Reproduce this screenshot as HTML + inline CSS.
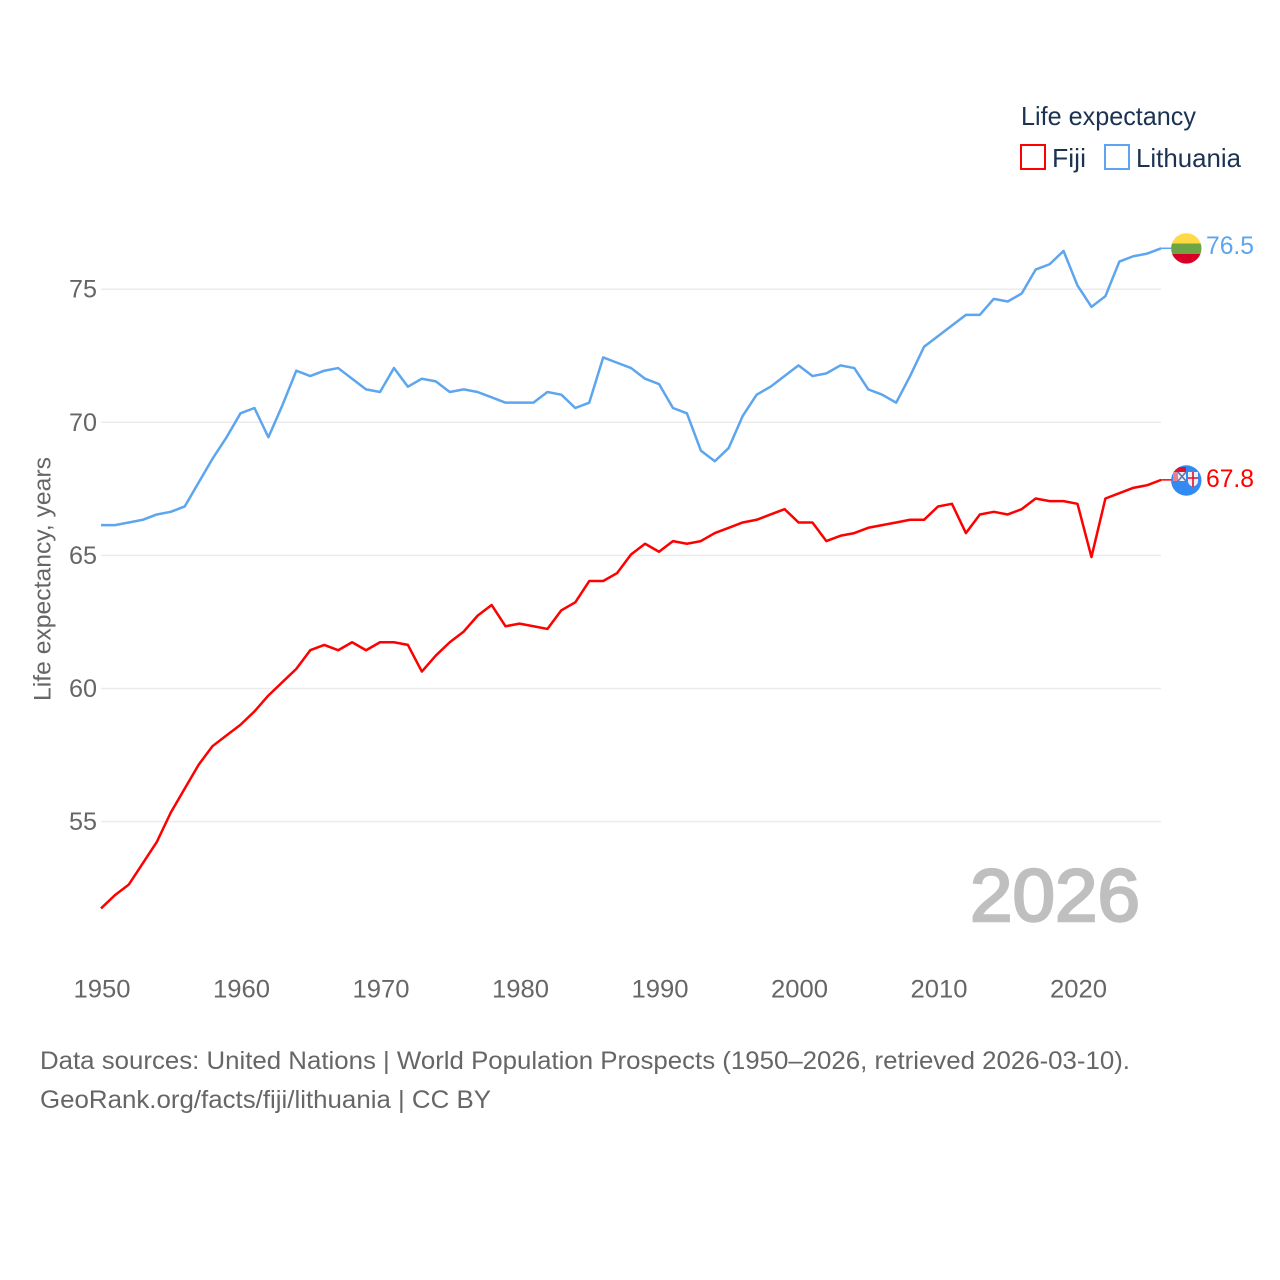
<!DOCTYPE html>
<html lang="en">
<head>
<meta charset="utf-8">
<title>Life expectancy: Fiji and Lithuania</title>
<style>
html,body{margin:0;padding:0;background:#fff}
svg{display:block;font-family:"Liberation Sans",sans-serif}
</style>
</head>
<body>
<svg id="chart" xmlns="http://www.w3.org/2000/svg" width="1280" height="1280" viewBox="0 0 1280 1280">
  <rect width="1280" height="1280" fill="#fff"/>
  <g id="grid"></g>
  <g id="yticks"></g>
  <g id="xticks"></g>
  <text transform="translate(50.5,701) rotate(-90)" font-size="24.5" fill="#666" textLength="244" lengthAdjust="spacingAndGlyphs">Life expectancy, years</text>
  <text x="970" y="921" font-size="74" fill="#bfbfbf" stroke="#bfbfbf" stroke-width="2.4" textLength="170" lengthAdjust="spacingAndGlyphs">2026</text>
  <g id="series"></g>

  <g>
    <text x="1021" y="125" font-size="26" fill="#1b3252" textLength="175" lengthAdjust="spacingAndGlyphs">Life expectancy</text>
    <g>
      <rect x="1021" y="145" width="24" height="24" fill="none" stroke="#ff0000" stroke-width="2"/>
      <text x="1052" y="167" font-size="26" fill="#1b3252" textLength="34" lengthAdjust="spacingAndGlyphs">Fiji</text>
    </g>
    <g>
      <rect x="1105" y="145" width="24" height="24" fill="none" stroke="#5da5ee" stroke-width="2"/>
      <text x="1136" y="167" font-size="26" fill="#1b3252" textLength="105" lengthAdjust="spacingAndGlyphs">Lithuania</text>
    </g>
  </g>

  <defs>
    <clipPath id="flag-clip-lt"><circle cx="1186.3" cy="248.4" r="15.2"/></clipPath>
    <clipPath id="flag-clip-fj"><circle cx="1186.3" cy="480.5" r="15.2"/></clipPath>
  </defs>

  <g id="flag-lt" clip-path="url(#flag-clip-lt)">
    <rect x="1171" y="233" width="31" height="10.5" fill="#ffda44"/>
    <rect x="1171" y="243.5" width="31" height="10.5" fill="#6da544"/>
    <rect x="1171" y="254" width="31" height="10" fill="#d80027"/>
  </g>

  <g id="flag-fj" clip-path="url(#flag-clip-fj)">
    <rect x="1171" y="465" width="31" height="31" fill="#338af3"/>
    <rect x="1173" y="467" width="13" height="14" fill="#e0102f"/>
    <rect x="1173" y="472" width="5" height="9" fill="#e9808c"/>
    <rect x="1178" y="472" width="8" height="9" fill="#f0f0f0"/>
    <path d="M1178 472l8 9M1186 472l-8 9" stroke="#5a74ad" stroke-width="1.6" fill="none"/>
    <path d="M1188 472h10v9c0 3-2 4.500-5 6c-3-1.500-5-3-5-6z" fill="#f0f0f0"/>
    <path d="M1193 472v15M1188 478h10" stroke="#e0102f" stroke-width="1.6" fill="none"/>
  </g>

  <text x="1206" y="254" font-size="25" fill="#5da5ee" textLength="48" lengthAdjust="spacingAndGlyphs">76.5</text>
  <text x="1206" y="487" font-size="25" fill="#ff0000" textLength="48" lengthAdjust="spacingAndGlyphs">67.8</text>

  <text x="40" y="1069" font-size="25" fill="#666" textLength="1090" lengthAdjust="spacingAndGlyphs">Data sources: United Nations | World Population Prospects (1950–2026, retrieved 2026-03-10).</text>
  <text x="40" y="1108" font-size="25" fill="#666" textLength="451" lengthAdjust="spacingAndGlyphs">GeoRank.org/facts/fiji/lithuania | CC BY</text>
</svg>
<script>
const startYear = 1950;
const yTickValues = [55, 60, 65, 70, 75];
const xTickValues = [1950, 1960, 1970, 1980, 1990, 2000, 2010, 2020];
const fijiValues = [
  51.7, 52.2, 52.6, 53.4, 54.2, 55.3, 56.2, 57.1, 57.8, 58.2,
  58.6, 59.1, 59.7, 60.2, 60.7, 61.4, 61.6, 61.4, 61.7, 61.4,
  61.7, 61.7, 61.6, 60.6, 61.2, 61.7, 62.1, 62.7, 63.1, 62.3,
  62.4, 62.3, 62.2, 62.9, 63.2, 64.0, 64.0, 64.3, 65.0, 65.4,
  65.1, 65.5, 65.4, 65.5, 65.8, 66.0, 66.2, 66.3, 66.5, 66.7,
  66.2, 66.2, 65.5, 65.7, 65.8, 66.0, 66.1, 66.2, 66.3, 66.3,
  66.8, 66.9, 65.8, 66.5, 66.6, 66.5, 66.7, 67.1, 67.0, 67.0,
  66.9, 64.9, 67.1, 67.3, 67.5, 67.6, 67.8
];
const lithuaniaValues = [
  66.1, 66.1, 66.2, 66.3, 66.5, 66.6, 66.8, 67.7, 68.6, 69.4,
  70.3, 70.5, 69.4, 70.6, 71.9, 71.7, 71.9, 72.0, 71.6, 71.2,
  71.1, 72.0, 71.3, 71.6, 71.5, 71.1, 71.2, 71.1, 70.9, 70.7,
  70.7, 70.7, 71.1, 71.0, 70.5, 70.7, 72.4, 72.2, 72.0, 71.6,
  71.4, 70.5, 70.3, 68.9, 68.5, 69.0, 70.2, 71.0, 71.3, 71.7,
  72.1, 71.7, 71.8, 72.1, 72.0, 71.2, 71.0, 70.7, 71.7, 72.8,
  73.2, 73.6, 74.0, 74.0, 74.6, 74.5, 74.8, 75.7, 75.9, 76.4,
  75.1, 74.3, 74.7, 76.0, 76.2, 76.3, 76.5
];

const SVG_NS = 'http://www.w3.org/2000/svg';
const xScale = function (year) { return 101 + (year - 1950) * 13.95; };
const yScale = function (value) { return 821.6 - (value - 55) * 26.62; };
const lineY = function (value) { return yScale(value) - 1; };
const gridGroup = document.getElementById('grid');
const yTickGroup = document.getElementById('yticks');
const xTickGroup = document.getElementById('xticks');
const seriesGroup = document.getElementById('series');

yTickValues.forEach(function (value) {
  const line = document.createElementNS(SVG_NS, 'line');
  
  
  line.setAttribute('x1', 101);
  line.setAttribute('x2', 1161);
  line.setAttribute('y1', yScale(value));
  line.setAttribute('y2', yScale(value));
  line.setAttribute('stroke', '#ebebeb');
  line.setAttribute('stroke-width', 1.5);
  gridGroup.appendChild(line);

  const label = document.createElementNS(SVG_NS, 'text');
  
  
  label.setAttribute('x', 97);
  label.setAttribute('y', yScale(value) + 8.5);
  label.setAttribute('text-anchor', 'end');
  label.setAttribute('font-size', 25);
  label.setAttribute('fill', '#666');
  label.setAttribute('textLength', 28);
  label.setAttribute('lengthAdjust', 'spacingAndGlyphs');
  label.textContent = String(value);
  yTickGroup.appendChild(label);
});

xTickValues.forEach(function (year) {
  const label = document.createElementNS(SVG_NS, 'text');
  
  
  label.setAttribute('x', xScale(year) + 1);
  label.setAttribute('y', 997.5);
  label.setAttribute('text-anchor', 'middle');
  label.setAttribute('font-size', 25);
  label.setAttribute('fill', '#666');
  label.setAttribute('textLength', 57);
  label.setAttribute('lengthAdjust', 'spacingAndGlyphs');
  label.textContent = String(year);
  xTickGroup.appendChild(label);
});

function buildPoints(values) {
  return values.map(function (value, index) {
    return xScale(startYear + index).toFixed(2) + ',' + lineY(value).toFixed(2);
  }).join(' ');
}

const lithuaniaLine = document.createElementNS(SVG_NS, 'polyline');


lithuaniaLine.setAttribute('points', buildPoints(lithuaniaValues));
lithuaniaLine.setAttribute('fill', 'none');
lithuaniaLine.setAttribute('stroke', '#5da5ee');
lithuaniaLine.setAttribute('stroke-width', 2.5);
lithuaniaLine.setAttribute('stroke-linejoin', 'round');
seriesGroup.appendChild(lithuaniaLine);

const fijiLine = document.createElementNS(SVG_NS, 'polyline');


fijiLine.setAttribute('points', buildPoints(fijiValues));
fijiLine.setAttribute('fill', 'none');
fijiLine.setAttribute('stroke', '#ff0000');
fijiLine.setAttribute('stroke-width', 2.5);
fijiLine.setAttribute('stroke-linejoin', 'round');
seriesGroup.appendChild(fijiLine);

const lastYear = startYear + fijiValues.length - 1;

const lithuaniaLeader = document.createElementNS(SVG_NS, 'line');


lithuaniaLeader.setAttribute('x1', xScale(lastYear));
lithuaniaLeader.setAttribute('x2', 1172);
lithuaniaLeader.setAttribute('y1', lineY(lithuaniaValues[lithuaniaValues.length - 1]));
lithuaniaLeader.setAttribute('y2', lineY(lithuaniaValues[lithuaniaValues.length - 1]));
lithuaniaLeader.setAttribute('stroke', '#5da5ee');
lithuaniaLeader.setAttribute('stroke-width', 1.5);
seriesGroup.appendChild(lithuaniaLeader);

const fijiLeader = document.createElementNS(SVG_NS, 'line');


fijiLeader.setAttribute('x1', xScale(lastYear));
fijiLeader.setAttribute('x2', 1172);
fijiLeader.setAttribute('y1', lineY(fijiValues[fijiValues.length - 1]));
fijiLeader.setAttribute('y2', lineY(fijiValues[fijiValues.length - 1]));
fijiLeader.setAttribute('stroke', '#ff0000');
fijiLeader.setAttribute('stroke-width', 1.5);
seriesGroup.appendChild(fijiLeader);
</script>
</body>
</html>
